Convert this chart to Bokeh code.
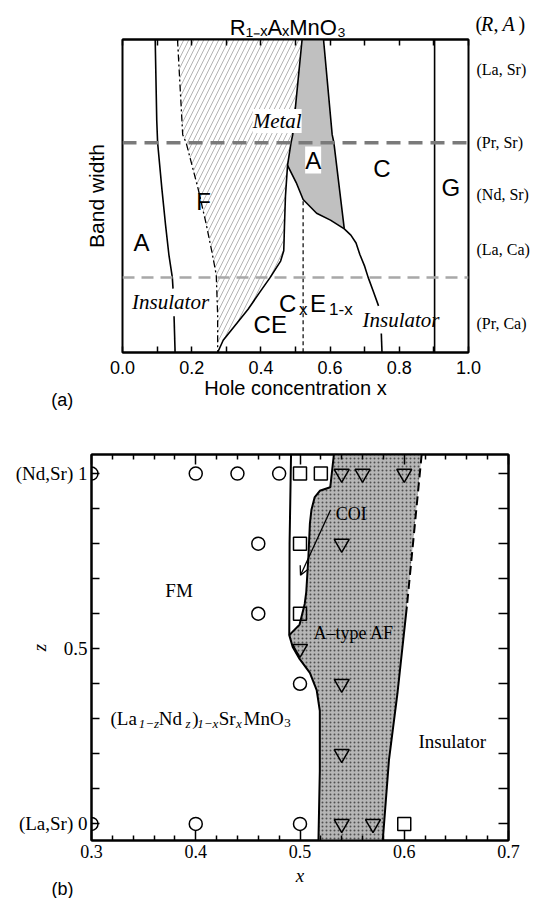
import math
from bokeh.plotting import figure
from bokeh.models import (Range1d, LinearAxis, FixedTicker, Label, Arrow, OpenHead,
                          Span, PrintfTickFormatter)
from bokeh.layouts import column, row
from bokeh.embed import file_html
from bokeh.resources import INLINE

SANS = "Liberation Sans"
SERIF = "Liberation Serif"

# ---------------- panel (a) data ----------------
a_major_ticks = [0.0, 0.2, 0.4, 0.6, 0.8, 1.0]
a_minor_ticks = [0.1, 0.3, 0.5, 0.7, 0.9]
row_labels = ["(La, Sr)", "(Pr, Sr)", "(Nd, Sr)", "(La, Ca)", "(Pr, Ca)"]
row_y = [0.905, 0.670, 0.505, 0.330, 0.094]
pr_sr_y = 0.670
pr_ca_y = 0.240

# A / F boundary (solid, with a gap for the "Insulator" text)
af_x1 = [0.0945, 0.099, 0.1015, 0.114, 0.124, 0.134, 0.144, 0.146]
af_y1 = [1.0, 0.741, 0.670, 0.521, 0.412, 0.313, 0.240, 0.204]
af_x2 = [0.149, 0.152]
af_y2 = [0.116, 0.0]
# F (insulating) / metallic F boundary (dash-dot)
fi_x = [0.159, 0.174, 0.184, 0.219, 0.240, 0.258, 0.271, 0.275, 0.275]
fi_y = [1.0, 0.696, 0.670, 0.521, 0.420, 0.324, 0.248, 0.120, 0.0]
# right edge of metallic F / CE boundary (solid)
fm_x = [0.519, 0.492, 0.487, 0.477, 0.471, 0.468, 0.467, 0.466, 0.457, 0.427, 0.397, 0.363, 0.323, 0.291, 0.275]
fm_y = [1.0, 0.696, 0.670, 0.598, 0.500, 0.400, 0.358, 0.325, 0.292, 0.240, 0.193, 0.138, 0.083, 0.039, 0.0]
# right edge of A-type metal (grey)
ar_x = [0.581, 0.606, 0.611, 0.641]
ar_y = [1.0, 0.696, 0.670, 0.395]
# lower edge of A-type metal, continuing as C / CE boundary
ab_x = [0.477, 0.502, 0.522, 0.561, 0.601, 0.641]
ab_y = [0.598, 0.543, 0.489, 0.445, 0.423, 0.395]
ci_x1 = [0.641, 0.660, 0.675, 0.686, 0.700, 0.710, 0.725, 0.740]
ci_y1 = [0.395, 0.375, 0.350, 0.313, 0.275, 0.240, 0.195, 0.149]
ci_x2 = [0.748, 0.750]
ci_y2 = [0.061, 0.0]
# CxE1-x / CE boundary (dashed vertical)
cx_x = [0.522, 0.522]
cx_y = [0.483, 0.0]
# G boundary
g_x = 0.902

# ---------------- panel (b) data ----------------
b_major_ticks = [0.3, 0.4, 0.5, 0.6, 0.7]
b_minor_ticks = [0.32, 0.34, 0.36, 0.38, 0.42, 0.44, 0.46, 0.48, 0.52, 0.54, 0.56, 0.58,
                 0.62, 0.64, 0.66, 0.68]
z_major_ticks = [0.0, 0.5, 1.0]
z_minor_ticks = [0.1, 0.2, 0.3, 0.4, 0.6, 0.7, 0.8, 0.9]
z_labels = {0.0: "(La,Sr) 0", 0.5: "0.5", 1.0: "(Nd,Sr) 1"}

circ_x = [0.30, 0.40, 0.44, 0.48, 0.46, 0.46, 0.50, 0.30, 0.40, 0.50]
circ_z = [1.0, 1.0, 1.0, 1.0, 0.8, 0.6, 0.4, 0.0, 0.0, 0.0]
sq_x = [0.50, 0.52, 0.50, 0.50, 0.60]
sq_z = [1.0, 1.0, 0.8, 0.6, 0.0]
tri_x = [0.54, 0.56, 0.60, 0.54, 0.50, 0.54, 0.54, 0.54, 0.57]
tri_z = [1.0, 1.0, 1.0, 0.8, 0.5, 0.4, 0.2, 0.0, 0.0]

# FM / A-type boundary (solid)
fmb_x = [0.4914, 0.4900, 0.4897, 0.4930, 0.4996, 0.5095, 0.5160, 0.5190, 0.5190, 0.5177]
fmb_z = [1.0546, 0.80, 0.539, 0.505, 0.471, 0.431, 0.382, 0.323, 0.15, -0.0474]
# COI / A-type boundary
coi_x = [0.5325, 0.5290, 0.5190, 0.5140, 0.5110, 0.5095, 0.5080, 0.5060, 0.5045, 0.4996, 0.4930, 0.4897]
coi_z = [1.0546, 0.961, 0.951, 0.932, 0.897, 0.858, 0.760, 0.662, 0.628, 0.569, 0.549, 0.539]
# A-type / insulator boundary
ai_dash_x = [0.6167, 0.6025]
ai_dash_z = [1.0546, 0.62]
ai_x = [0.6025, 0.5935, 0.5853, 0.5794]
ai_z = [0.62, 0.373, 0.181, -0.0474]


def lab(p, x, y, text, font=SANS, size=24, style="normal", align="center",
        baseline="middle", angle=0.0, bg=None, place=None):
    kw = dict(x=x, y=y, text=text, text_font=font, text_font_size=f"{size}px",
              text_font_style=style, text_align=align, text_baseline=baseline,
              angle=angle, text_color="black")
    if bg is not None:
        kw["background_fill_color"] = bg
    if place is None:
        p.add_layout(Label(**kw))
    else:
        p.add_layout(Label(**kw), place)


def hidden_label_axis(ticker, tick_in, minor_in):
    return LinearAxis(ticker=ticker, major_tick_in=tick_in, major_tick_out=0,
                      minor_tick_in=minor_in, minor_tick_out=0,
                      major_tick_line_width=1.5, minor_tick_line_width=1.5, axis_line_width=2,
                      major_label_text_font_size="2px", major_label_text_color=None,
                      major_label_standoff=0)


def base_fig(width, height, xr, yr, left, right, top, bottom):
    p = figure(width=width, height=height, x_range=xr, y_range=yr,
               x_axis_location=None, y_axis_location=None,
               output_backend="svg", toolbar_location=None,
               min_border_left=left, min_border_right=right,
               min_border_top=top, min_border_bottom=bottom)
    p.outline_line_color = "black"
    p.outline_line_width = 2
    p.background_fill_color = "white"
    p.border_fill_color = "white"
    p.xgrid.grid_line_color = None
    p.ygrid.grid_line_color = None
    return p


# ================= panel (a) =================
p1 = base_fig(539, 420, Range1d(0, 1), Range1d(0, 1), 122, 71, 39, 68)

xb = LinearAxis(ticker=FixedTicker(ticks=a_major_ticks, minor_ticks=a_minor_ticks),
                formatter=PrintfTickFormatter(format="%.1f"),
                major_tick_in=6, major_tick_out=0, minor_tick_in=6, minor_tick_out=0,
                major_tick_line_width=1.5, minor_tick_line_width=1.5, axis_line_width=2,
                major_label_text_font=SANS, major_label_text_font_size="18px",
                major_label_text_color="black",
                major_label_standoff=8, axis_label="Hole concentration x",
                axis_label_text_font=SANS, axis_label_text_font_size="20px",
                axis_label_text_color="black",
                axis_label_text_font_style="normal", axis_label_standoff=0)
p1.add_layout(xb, "below")
p1.add_layout(hidden_label_axis(FixedTicker(ticks=a_major_ticks, minor_ticks=a_minor_ticks), 6, 6), "above")

yl1 = LinearAxis(ticker=FixedTicker(ticks=[]), axis_line_color=None,
                 major_tick_in=0, major_tick_out=0, minor_tick_in=0, minor_tick_out=0,
                 major_label_standoff=0, axis_label="Band width",
                 axis_label_text_font=SANS, axis_label_text_font_size="21px",
                 axis_label_text_color="black",
                 axis_label_text_font_style="normal", axis_label_standoff=15)
p1.add_layout(yl1, "left")

yr1 = LinearAxis(ticker=FixedTicker(ticks=row_y),
                 major_label_overrides=dict(zip(row_y, row_labels)),
                 axis_line_color=None, major_tick_in=0, major_tick_out=0,
                 minor_tick_in=0, minor_tick_out=0,
                 major_label_text_font=SERIF, major_label_text_font_size="16px",
                 major_label_text_color="black", major_label_standoff=8)
p1.add_layout(yr1, "right")

hatch_x = fi_x + fm_x[::-1]
hatch_y = fi_y + fm_y[::-1]
p1.patch(hatch_x, hatch_y, fill_color="white", line_color=None,
         hatch_pattern="right_diagonal_line", hatch_color="#a0a0a0",
         hatch_scale=10, hatch_weight=0.8)

grey_x = [fm_x[0]] + ar_x + ab_x[::-1][1:] + [0.487, 0.492]
grey_y = [fm_y[0]] + ar_y + ab_y[::-1][1:] + [0.670, 0.696]
p1.patch(grey_x, grey_y, fill_color="#c0c0c0", line_color=None)

lw = 1.6
p1.line(af_x1, af_y1, line_color="black", line_width=lw)
p1.line(af_x2, af_y2, line_color="black", line_width=lw)
p1.line(fi_x, fi_y, line_color="black", line_width=1.3, line_dash="7 3 2 3")
p1.line(fm_x, fm_y, line_color="black", line_width=lw)
p1.line(ar_x, ar_y, line_color="black", line_width=lw)
p1.line(ab_x, ab_y, line_color="black", line_width=lw)
p1.line(ci_x1, ci_y1, line_color="black", line_width=lw)
p1.line(ci_x2, ci_y2, line_color="black", line_width=lw)
p1.line(cx_x, cx_y, line_color="black", line_width=1.2, line_dash="4 3")
p1.add_layout(Span(location=g_x, dimension="height", line_color="black", line_width=lw))

lab(p1, 0.447, 0.740, "Metal", font=SERIF, size=21, style="italic", bg="white")
lab(p1, 0.551, 0.615, "A", size=24, bg="white")

p1.add_layout(Span(location=pr_sr_y, dimension="width", line_color="#7a7a7a",
                   line_width=3.5, line_dash="14 8"))
p1.add_layout(Span(location=pr_ca_y, dimension="width", line_color="#a8a8a8",
                   line_width=2.5, line_dash="12 7"))

lab(p1, 0.750, 0.588, "C", size=24)
lab(p1, 0.949, 0.527, "G", size=24)
lab(p1, 0.234, 0.483, "F", size=24)
lab(p1, 0.055, 0.351, "A", size=24)
lab(p1, 0.427, 0.089, "CE", size=24)
lab(p1, 0.139, 0.160, "Insulator", font=SERIF, size=21, style="italic")
lab(p1, 0.805, 0.103, "Insulator", font=SERIF, size=21, style="italic")
# C_x E_1-x
lab(p1, 0.452, 0.155, "C", size=24, align="left", baseline="alphabetic")
lab(p1, 0.510, 0.137, "x", size=17, align="left", baseline="alphabetic")
lab(p1, 0.542, 0.155, "E", size=24, align="left", baseline="alphabetic")
lab(p1, 0.597, 0.137, "1-x", size=17, align="left", baseline="alphabetic")
# title above the frame
lab(p1, 0.478, 1.038, "R\u2081\u208b\u2093A\u2093MnO\u2083", size=22, baseline="alphabetic", place="above")
# (R, A) and (a): placed in the left side panel (positioned by data coordinates)
lab(p1, 1.020, 1.051, "(", font=SERIF, size=20, align="left", place="left")
lab(p1, 1.036, 1.051, "R", font=SERIF, size=20, style="italic", align="left", place="left")
lab(p1, 1.072, 1.051, ",", font=SERIF, size=20, align="left", place="left")
lab(p1, 1.098, 1.051, "A", font=SERIF, size=20, style="italic", align="left", place="left")
lab(p1, 1.1445, 1.051, ")", font=SERIF, size=20, align="left", place="left")
lab(p1, -0.174, -0.153, "(a)", size=18, place="left")

# ================= panel (b) =================
p2 = base_fig(539, 478, Range1d(0.3, 0.7), Range1d(-0.0474, 1.0546), 91, 31, 34, 58)

xb2 = LinearAxis(ticker=FixedTicker(ticks=b_major_ticks, minor_ticks=b_minor_ticks),
                 formatter=PrintfTickFormatter(format="%.1f"),
                 major_tick_in=10, major_tick_out=0, minor_tick_in=5, minor_tick_out=0,
                 major_tick_line_width=1.5, minor_tick_line_width=1.5, axis_line_width=2,
                 major_label_text_font=SERIF, major_label_text_font_size="18px",
                 major_label_text_color="black",
                 major_label_standoff=4, axis_label="x", axis_label_text_font=SERIF,
                 axis_label_text_font_size="19px", axis_label_text_font_style="italic",
                 axis_label_text_color="black", axis_label_standoff=4)
p2.add_layout(xb2, "below")
p2.add_layout(hidden_label_axis(FixedTicker(ticks=b_major_ticks, minor_ticks=b_minor_ticks), 10, 5), "above")

yl = LinearAxis(ticker=FixedTicker(ticks=z_major_ticks, minor_ticks=z_minor_ticks),
                major_label_overrides=z_labels,
                major_tick_in=8, major_tick_out=0, minor_tick_in=8, minor_tick_out=0,
                major_tick_line_width=1.5, minor_tick_line_width=1.5, axis_line_width=2,
                major_label_text_font=SERIF, major_label_text_font_size="19px",
                major_label_text_color="black", major_label_standoff=4,
                axis_label="z", axis_label_text_font=SERIF, axis_label_text_font_size="19px",
                axis_label_text_font_style="italic", axis_label_text_color="black",
                axis_label_standoff=-37)
p2.add_layout(yl, "left")
p2.add_layout(hidden_label_axis(FixedTicker(ticks=z_major_ticks, minor_ticks=z_minor_ticks), 10, 10), "right")

shade_x = coi_x + fmb_x[3:] + ai_x[::-1] + ai_dash_x[::-1][1:]
shade_z = coi_z + fmb_z[3:] + ai_z[::-1] + ai_dash_z[::-1][1:]
p2.patch(shade_x, shade_z, fill_color="#b6b6b6", line_color=None,
         hatch_pattern="dot", hatch_color="#505050", hatch_scale=4, hatch_weight=1.0)

p2.line(fmb_x, fmb_z, line_color="black", line_width=2)
p2.line(coi_x, coi_z, line_color="black", line_width=2)
p2.line(ai_dash_x, ai_dash_z, line_color="black", line_width=2, line_dash="9 5")
p2.line(ai_x, ai_z, line_color="black", line_width=2)

p2.scatter(circ_x, circ_z, marker="circle", size=13, fill_color=None,
           line_color="black", line_width=1.5)
p2.scatter(sq_x, sq_z, marker="square", size=13, fill_color=None,
           line_color="black", line_width=1.5)
p2.scatter(tri_x, tri_z, marker="inverted_triangle", size=15, fill_color=None,
           line_color="black", line_width=1.5)

p2.add_layout(Arrow(end=OpenHead(size=9, line_width=1.3), x_start=0.5293, y_start=0.896,
                    x_end=0.5005, y_end=0.710, line_width=1.3))

lab(p2, 0.384, 0.667, "FM", font=SERIF, size=19)
lab(p2, 0.5342, 0.886, "COI", font=SERIF, size=18, align="left")
lab(p2, 0.5515, 0.544, "A\u2013type AF", font=SERIF, size=18)
lab(p2, 0.646, 0.235, "Insulator", font=SERIF, size=19)
# (La1-zNdz)1-xSrxMnO3
fy, sy = 0.3006, 0.288
lab(p2, 0.3182, fy, "(La", font=SERIF, size=19, align="left", baseline="alphabetic")
lab(p2, 0.3454, sy, "1\u2212z", font=SERIF, size=13, style="italic", align="left", baseline="alphabetic")
lab(p2, 0.3646, fy, "Nd", font=SERIF, size=19, align="left", baseline="alphabetic")
lab(p2, 0.3902, sy, "z", font=SERIF, size=13, style="italic", align="left", baseline="alphabetic")
lab(p2, 0.3966, fy, ")", font=SERIF, size=19, align="left", baseline="alphabetic")
lab(p2, 0.4014, sy, "1\u2212x", font=SERIF, size=13, style="italic", align="left", baseline="alphabetic")
lab(p2, 0.4221, fy, "Sr", font=SERIF, size=19, align="left", baseline="alphabetic")
lab(p2, 0.4386, sy, "x", font=SERIF, size=13, style="italic", align="left", baseline="alphabetic")
lab(p2, 0.4458, fy, "MnO", font=SERIF, size=19, align="left", baseline="alphabetic")
lab(p2, 0.4850, sy, "3", font=SERIF, size=13, align="left", baseline="alphabetic")
lab(p2, 0.2722, -0.187, "(b)", font=SANS, size=18, place="above")

layout = column(row(p1), row(p2), spacing=0)
open("out.html", "w").write(file_html(layout, INLINE))
